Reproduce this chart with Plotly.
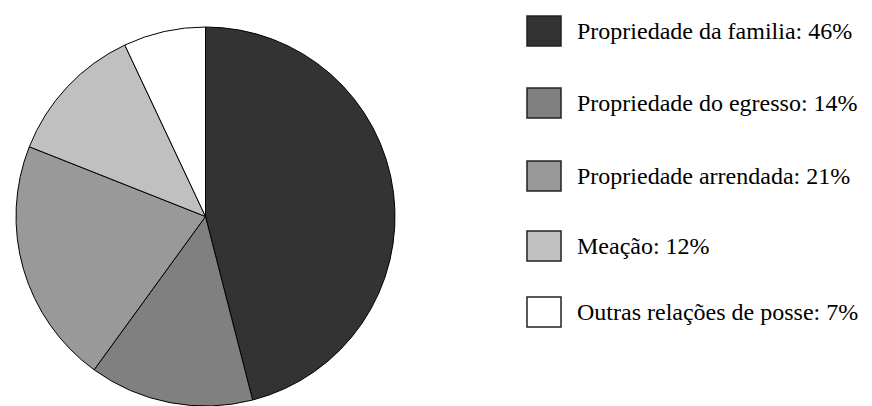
import plotly.graph_objects as go

labels = ["Propriedade da familia", "Propriedade do egresso", "Propriedade arrendada",
          "Meação", "Outras relações de posse"]
values = [46, 14, 21, 12, 7]
colors = ["#333333", "#808080", "#999999", "#c0c0c0", "#ffffff"]

W, H = 872, 406
SERIF = "Liberation Serif"

def px(x):
    return x / W

def py(y):
    return 1 - y / H

cx, cy, r = 205.5, 216.5, 189.5

fig = go.Figure(go.Pie(
    labels=labels,
    values=values,
    sort=False,
    direction="clockwise",
    rotation=0,
    marker=dict(colors=colors, line=dict(color="#000000", width=1)),
    textinfo="none",
    hoverinfo="label+percent",
    showlegend=False,
    domain=dict(x=[px(cx - r), px(cx + r)], y=[py(cy + r), py(cy - r)]),
))

# custom legend
leg_y = [31, 103, 176, 246, 312]
sw_x0, sw_x1 = 527, 561
for lab, val, col, yc in zip(labels, values, colors, leg_y):
    fig.add_shape(type="rect", xref="paper", yref="paper",
                  x0=px(sw_x0), x1=px(sw_x1), y0=py(yc + 15), y1=py(yc - 15),
                  fillcolor=col, line=dict(color="#222222", width=1.5))
    fig.add_annotation(xref="paper", yref="paper", x=px(575), y=py(yc),
                       xanchor="left", yanchor="middle", showarrow=False,
                       text=f"{lab}: {val}%",
                       font=dict(family=SERIF, size=24, color="#000000"))

fig.update_layout(
    width=W, height=H,
    margin=dict(l=0, r=0, t=0, b=0),
    paper_bgcolor="white",
    plot_bgcolor="white",
)

fig.write_html("out.html")
